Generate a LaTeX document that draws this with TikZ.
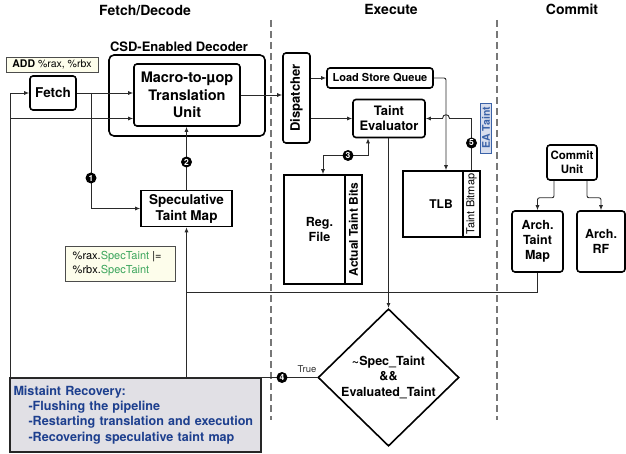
\documentclass[tikz,border=0pt]{standalone}
\usepackage{fontspec}
\setmainfont{TeX Gyre Heros}
\usetikzlibrary{shapes.geometric,arrows.meta,calc}
\definecolor{ln}{HTML}{2A2A2A}
\definecolor{dashc}{HTML}{777777}
\definecolor{notefill}{HTML}{FDFDEB}
\definecolor{codegreen}{HTML}{3BA55C}
\definecolor{mistfill}{HTML}{E1E0E5}
\definecolor{misttext}{HTML}{1D3F8E}
\definecolor{eafill}{HTML}{D8DEEE}
\definecolor{eadraw}{HTML}{3A62A8}
\begin{document}
\begin{tikzpicture}[x=1pt,y=-1pt,
  box/.style={draw=black, line width=1.6pt, rounded corners=3pt, align=center, inner sep=1pt,
    font=\bfseries\fontsize{13.5}{16}\selectfont},
  sbox/.style={draw=black, line width=1.6pt, align=center, inner sep=1pt,
    font=\bfseries\fontsize{13.5}{16}\selectfont},
  arr/.style={draw=ln, line width=0.9pt, -{Latex[length=5pt,width=4pt]}},
  arrboth/.style={draw=ln, line width=0.9pt, {Latex[length=5pt,width=4pt]}-{Latex[length=5pt,width=4pt]}},
  wire/.style={draw=ln, line width=0.9pt},
  num/.style={circle, fill=black, text=white, inner sep=0pt, minimum size=11pt,
    font=\bfseries\fontsize{8.5}{8.5}\selectfont},
  title/.style={font=\bfseries\fontsize{14}{16}\selectfont},
  divider/.style={draw=dashc, line width=1.3pt, dash pattern=on 7pt off 4pt}
]
\useasboundingbox (0,0) rectangle (626,454);

% titles
\node[title] (tfd) at (145,10) {Fetch/Decode};
\node[title] (tex) at (391,9) {Execute};
\node[title] (tcm) at (572,9) {Commit};

% dashed stage dividers
\draw[divider] (271,20) -- (271,420);
\draw[divider] (497,20) -- (497,420);

% fetch / decode
\node[draw=black!70, line width=0.6pt, fill=notefill, inner sep=2pt, minimum width=92pt, minimum height=15pt,
  font=\fontsize{10.5}{12}\selectfont] (add) at (52,64.5) {\textbf{ADD} \%rax, \%rbx};
\node[box, minimum width=46pt, minimum height=34pt] (fetch) at (53,93) {Fetch};
\node[font=\bfseries\fontsize{13}{15}\selectfont] (csdlbl) at (179,47) {CSD-Enabled Decoder};
\node[draw=black, line width=1.6pt, rounded corners=5pt, minimum width=156pt, minimum height=81pt] (decoder) at (187,95.5) {};
\node[box, minimum width=106pt, minimum height=62pt, font=\bfseries\fontsize{14.5}{17.5}\selectfont] (macro) at (187,95) {Macro-to-\textmu op\\Translation\\Unit};
\node[sbox, minimum width=91pt, minimum height=36pt] (spec) at (186.5,208.5) {Speculative\\Taint Map};
\node[draw=black!70, line width=0.6pt, fill=notefill, inner sep=3pt, align=left, minimum width=110pt, minimum height=35pt,
  font=\fontsize{11}{14}\selectfont] (green) at (120,263.5)
  {\%rax.\textcolor{codegreen}{SpecTaint} |=\\\%rbx.\textcolor{codegreen}{SpecTaint}\hspace*{18pt}};

% execute
\node[box, rotate=90, minimum width=90pt, minimum height=27pt, font=\bfseries\fontsize{13}{15}\selectfont] (disp) at (296.5,98) {Dispatcher};
\node[box, minimum width=106pt, minimum height=20pt, font=\bfseries\fontsize{11}{13}\selectfont] (lsq) at (380,78) {Load Store Queue};
\node[box, minimum width=72pt, minimum height=38pt, font=\bfseries\fontsize{13}{15}\selectfont] (teval) at (389,118.5) {Taint\\Evaluator};
\node[sbox, minimum width=61pt, minimum height=109pt, font=\bfseries\fontsize{12.5}{15}\selectfont] (regfile) at (314.5,229.5) {\hspace*{10pt}Reg.\\\hspace*{10pt}File};
\node[sbox, rotate=90, minimum width=109pt, minimum height=17pt, font=\bfseries\fontsize{12}{14}\selectfont] (atb) at (353.5,229.5) {Actual Taint Bits};
\node[sbox, minimum width=60pt, minimum height=66pt, font=\bfseries\fontsize{12}{14}\selectfont] (tlb) at (433,204) {\hspace*{16pt}TLB};
\node[sbox, rotate=90, minimum width=66pt, minimum height=17pt, font=\fontsize{11}{13}\selectfont] (tbm) at (471.5,204) {Taint Bitmap};
\node[draw=eadraw, line width=0.5pt, fill=eafill, text=eadraw, rotate=90, inner sep=0.5pt, minimum width=50pt, minimum height=11pt,
  font=\bfseries\fontsize{10.5}{12}\selectfont] (ea) at (486,128) {EA Taint};
\node[draw=black, line width=1.6pt, diamond, minimum width=141pt, minimum height=131pt, inner sep=0pt, align=center,
  font=\bfseries\fontsize{12.5}{15.5}\selectfont] (diam) at (388.5,377.5) {\textasciitilde Spec\_Taint\\\&\&\\Evaluated\_Taint};

% commit
\node[box, minimum width=50pt, minimum height=35pt, font=\bfseries\fontsize{11.5}{14}\selectfont] (commit) at (572,162.5) {Commit\\Unit};
\node[box, minimum width=51pt, minimum height=61pt, font=\bfseries\fontsize{12.5}{15}\selectfont] (archtm) at (537.5,241.5) {Arch.\\Taint\\Map};
\node[box, minimum width=48pt, minimum height=61pt, font=\bfseries\fontsize{12.5}{15}\selectfont] (archrf) at (601,241.5) {Arch.\\RF};

% recovery box
\node[draw=black!85, line width=1.3pt, fill=mistfill, text=misttext, align=left, inner sep=3pt,
  minimum width=251pt, minimum height=74pt, text width=244pt,
  font=\bfseries\fontsize{12.6}{15.3}\selectfont] (mist) at (135.5,415)
  {Mistaint Recovery:\\\hspace*{15pt}-Flushing the pipeline\\\hspace*{15pt}-Restarting translation and execution\\\hspace*{15pt}-Recovering speculative taint map};

% helper coordinates
\coordinate (b1) at (91,93);
\coordinate (l118) at (10,118.5);
\coordinate (loopL) at (10,377.5);
\coordinate (x368) at (368,0);
\coordinate (x323) at (323,0);
\coordinate (x446) at (446,0);
\coordinate (hopR) at (449.5,0);
\coordinate (hopL) at (442.5,0);
\coordinate (x554) at (554,0);
\coordinate (x587) at (587,0);
\coordinate (retH) at (186.5,292);
\coordinate (retB) at (186.5,377.5);

% connectors
\draw[arr] (fetch.east) -- (macro.west |- fetch.east);
\draw[arr] (b1) |- (spec.west);
\draw[arr] (l118) -- (macro.west |- l118);
\draw[arr] (diam.west) -- (loopL) |- (fetch.west);
\draw[arr] (macro.east) -- (disp.north |- macro.east);
\draw[arr] (spec.north) -- (macro.south -| spec.north);
\draw[arr] (disp.south |- lsq.west) -- (lsq.west);
\draw[arr] (disp.south |- teval.west) -- (teval.west);
\draw[arr, rounded corners=2pt] (lsq.east) -| (tlb.north -| x446);
\draw[arr] (tbm.center |- tlb.north) |- (teval.east -| hopR)
  .. controls +(0,-5) and +(0,-5) .. (teval.east -| hopL) -- (teval.east);
\draw[arr] (teval.south -| diam.north) -- (diam.north);
\draw[arrboth] (teval.south -| x368) -- ++(0,17) -| (regfile.north -| x323);
\draw[arr, rounded corners=2pt] (commit.south -| x554) -- ++(0,17) -| (archtm.north);
\draw[arr, rounded corners=2pt] (commit.south -| x587) -- ++(0,17) -| (archrf.north);
\draw[wire] (archtm.south) |- (retH);
\draw[arr] (retB) -- (spec.south);

% numbered markers and labels
\node[num] (n1) at (91,178) {1};
\node[num] (n2) at (186.5,162) {2};
\node[num] (n3) at (348,155.5) {3};
\node[num] (n4) at (282,377.5) {4};
\node[num] (n5) at (471.5,143) {5};
\node[font=\fontsize{9.5}{11}\selectfont, text=black!80] (truelbl) at (307,369.5) {True};
\end{tikzpicture}
\end{document}
